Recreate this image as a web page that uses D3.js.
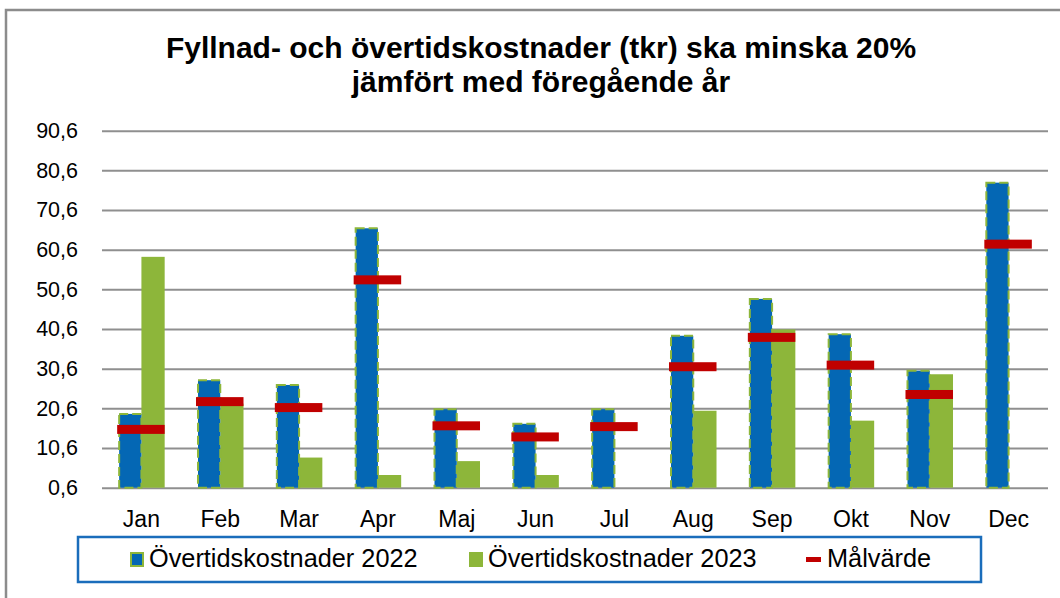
<!DOCTYPE html>
<html><head><meta charset="utf-8">
<script src="https://cdn.jsdelivr.net/npm/d3@7"></script>
<style>
html,body{margin:0;padding:0;background:#fff;}
svg{display:block;font-family:"Liberation Sans",Arial,sans-serif;}
</style></head>
<body>
<svg id="chart" width="1060" height="598"></svg>
<script>
const months = ["Jan","Feb","Mar","Apr","Maj","Jun","Jul","Aug","Sep","Okt","Nov","Dec"];
const cost2022 = [19.2, 27.7, 26.5, 66.0, 20.4, 16.7, 20.4, 38.9, 48.2, 39.3, 30.1, 77.5];
const cost2023 = [58.8, 21.8, 8.2, 3.8, 7.3, 3.8, null, 20.0, 40.5, 17.5, 29.2, null];
const target = [15.3, 22.3, 20.8, 53.0, 16.2, 13.4, 16.0, 31.1, 38.5, 31.5, 24.1, 62.0];
const yTicks = [0.6, 10.6, 20.6, 30.6, 40.6, 50.6, 60.6, 70.6, 80.6, 90.6];
const seriesNames = ["Övertidskostnader 2022", "Övertidskostnader 2023", "Målvärde"];
const titleLines = ["Fyllnad- och övertidskostnader (tkr) ska minska 20%", "jämfört med föregående år"];

const BLUE = "#0467b4", GREEN = "#8db63a", RED = "#c00000", GRID = "#8f8f8f";
const svg = d3.select("#chart");

// outer frame
svg.append("rect").attr("x", 6).attr("y", 10).attr("width", 1200).attr("height", 800)
  .attr("fill", "none").attr("stroke", "#8c8c8c").attr("stroke-width", 2.5);

// title
const title = svg.append("text").attr("text-anchor", "middle")
  .attr("font-weight", "bold").attr("font-size", 30).attr("fill", "#000");
titleLines.forEach((t, i) => title.append("tspan").attr("x", 541).attr("y", 58 + i * 34).text(t));

const plot = {left: 102, right: 1048, top: 130.7, bottom: 487.7};

const x0 = d3.scaleBand().domain(months).range([plot.left, plot.right])
  .paddingInner(0.41).paddingOuter(0.205);
const x1 = d3.scaleBand().domain(["a", "b"]).range([0, x0.bandwidth()]);
const y = d3.scaleLinear().domain([0.6, 90.6]).range([plot.bottom, plot.top]);

// gridlines
const gAxis = svg.append("g").attr("transform", `translate(${plot.left},0)`)
  .call(d3.axisLeft(y).tickValues(yTicks).tickSize(-(plot.right - plot.left))
    .tickFormat(d => d3.format(".1f")(d).replace(".", ",")).tickPadding(24));
gAxis.select(".domain").remove();
gAxis.selectAll(".tick line").attr("stroke", GRID).attr("stroke-width", 2);
gAxis.selectAll(".tick text").attr("font-size", 21.5).attr("fill", "#000")
  .attr("font-family", "Liberation Sans, Arial, sans-serif");

// x axis labels
const gx = svg.append("g").attr("transform", `translate(0,${plot.bottom})`)
  .call(d3.axisBottom(x0).tickSize(0).tickPadding(23));
gx.select(".domain").remove();
gx.selectAll(".tick text").attr("font-size", 23).attr("fill", "#000")
  .attr("font-family", "Liberation Sans, Arial, sans-serif");

// bars 2023
svg.append("g").selectAll("rect").data(months.map((m, i) => ({m, v: cost2023[i]})).filter(d => d.v != null))
  .join("rect")
  .attr("x", d => x0(d.m) + x1("b")).attr("width", x1.bandwidth())
  .attr("y", d => y(d.v)).attr("height", d => y(0.6) - y(d.v))
  .attr("fill", GREEN);

// bars 2022
svg.append("g").selectAll("rect").data(months.map((m, i) => ({m, v: cost2022[i]})))
  .join("rect")
  .attr("x", d => x0(d.m) + x1("a") + 1).attr("width", x1.bandwidth() - 1)
  .attr("y", d => y(d.v)).attr("height", d => y(0.6) - y(d.v))
  .attr("fill", BLUE).attr("stroke", GREEN).attr("stroke-width", 2)
  .attr("stroke-dasharray", "9,4");

// target markers
svg.append("g").selectAll("rect").data(months.map((m, i) => ({m, v: target[i]})))
  .join("rect")
  .attr("x", d => x0(d.m) - 1).attr("width", x0.bandwidth() + 1)
  .attr("y", d => y(d.v) - 4.5).attr("height", 9)
  .attr("fill", RED);

// legend
const lg = svg.append("g");
lg.append("rect").attr("x", 78).attr("y", 537).attr("width", 903).attr("height", 45)
  .attr("fill", "#fff").attr("stroke", "#1a6dbb").attr("stroke-width", 2.5);
const legendX = [130, 469, 806];
const textX = [149, 488, 827];
// marker 2022
lg.append("rect").attr("x", legendX[0] + 1).attr("y", 553).attr("width", 12).attr("height", 13)
  .attr("fill", BLUE).attr("stroke", GREEN).attr("stroke-width", 2);
// marker 2023
lg.append("rect").attr("x", legendX[1]).attr("y", 552).attr("width", 14).attr("height", 15)
  .attr("fill", GREEN);
// marker target
lg.append("rect").attr("x", legendX[2]).attr("y", 557).attr("width", 15).attr("height", 5)
  .attr("fill", RED);
seriesNames.forEach((n, i) => {
  lg.append("text").attr("x", textX[i]).attr("y", 567).attr("font-size", 25.3)
    .attr("fill", "#000").text(n);
});
</script>
</body></html>
